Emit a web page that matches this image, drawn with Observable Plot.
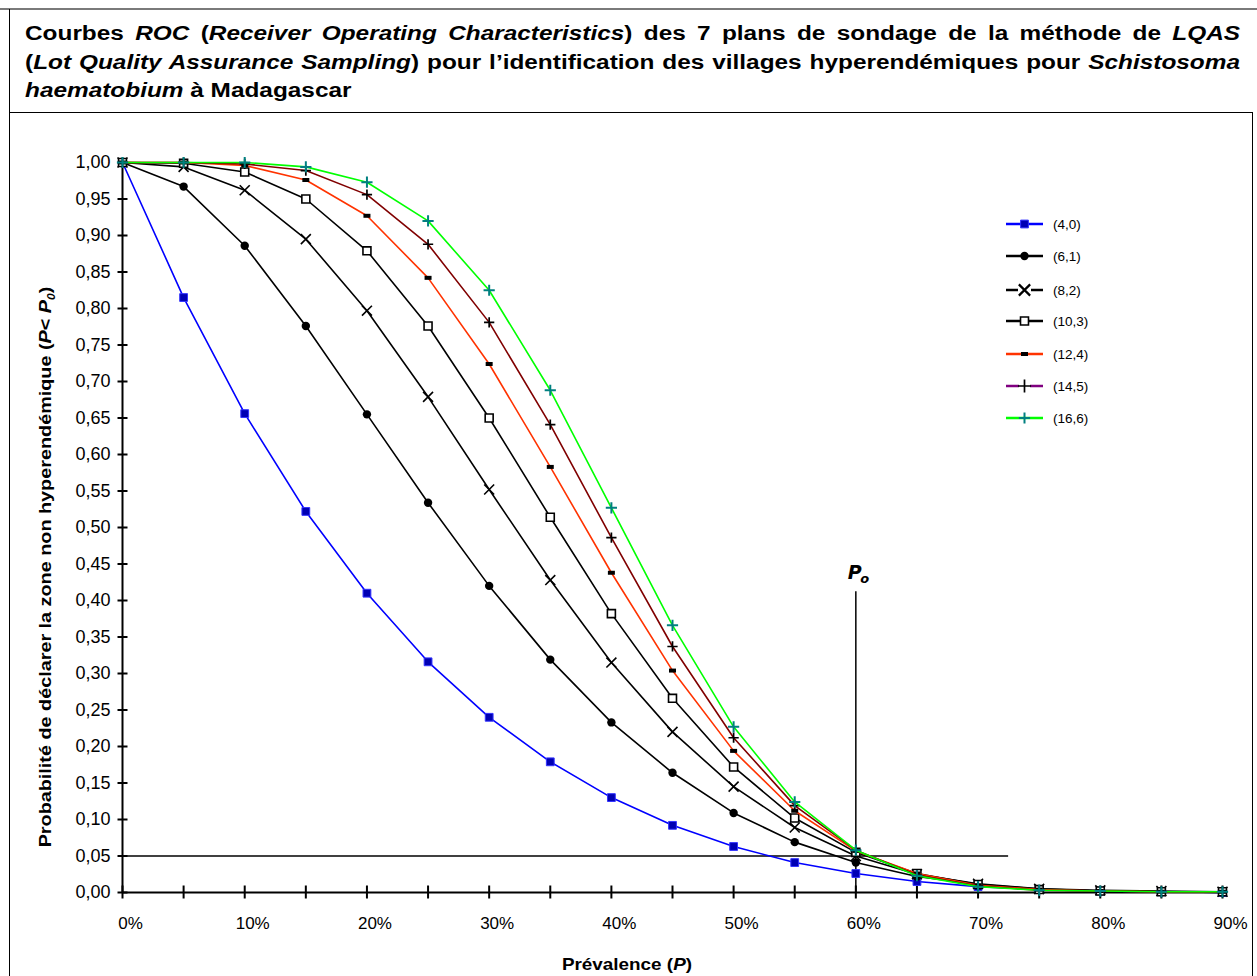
<!DOCTYPE html>
<html><head><meta charset="utf-8">
<script src="https://cdn.jsdelivr.net/npm/d3@7"></script>
<script src="https://cdn.jsdelivr.net/npm/@observablehq/plot@0.6"></script>
<style>
body{margin:0;background:#fff;font-family:"Liberation Sans",Arial,sans-serif;color:#000;}
#page{position:relative;width:1257px;height:976px;overflow:hidden;background:#fff;}
#topline{position:absolute;left:0;top:8px;width:1257px;height:2px;background:#7a7a7a;}
#leftline{position:absolute;left:9px;top:9px;width:1px;height:967px;background:#000;}
#box{position:absolute;left:9px;top:112px;width:1243px;height:900px;border-top:1px solid #000;border-right:1px solid #000;}
#title{position:absolute;left:25px;top:19px;width:972px;font-weight:bold;font-size:19.5px;line-height:28.5px;transform:scaleX(1.25);transform-origin:0 0;}
#title .j{text-align:justify;text-align-last:justify;}
#chart{position:absolute;left:0;top:113px;}
#ylab{position:absolute;left:-255px;top:557px;width:600px;height:20px;line-height:20px;text-align:center;font-weight:bold;font-size:16.5px;transform:rotate(-90deg) scaleX(1.2);white-space:nowrap;}
#xlab{position:absolute;left:427px;top:955px;width:400px;text-align:center;font-weight:bold;font-size:17px;transform:scaleX(1.11);}
#legend{position:absolute;left:0;top:0;}
</style>
</head><body>
<div id="page">
  <div id="topline"></div>
  <div id="leftline"></div>
  <div id="box"></div>
  <div id="title">
    <div class="j">Courbes <i>ROC</i> (<i>Receiver Operating Characteristics</i>) des 7 plans de sondage de la méthode de <i>LQAS</i></div>
    <div class="j">(<i>Lot Quality Assurance Sampling</i>) pour l’identification des villages hyperendémiques pour <i>Schistosoma</i></div>
    <div><i>haematobium</i> à Madagascar</div>
  </div>
  <div id="chart"></div>
  <div id="ylab">Probabilité de déclarer la zone non hyperendémique (<i>P</i>&lt; <i>P<sub style="font-size:10px">0</sub></i>)</div>
  <div id="xlab">Prévalence (<i>P</i>)</div>
</div>
<script>
// ---- data ----
const prevalence = [0,5,10,15,20,25,30,35,40,45,50,55,60,65,70,75,80,85,90];
const plans = ["(4,0)","(6,1)","(8,2)","(10,3)","(12,4)","(14,5)","(16,6)"];
const s40  = [1.000,0.815,0.656,0.522,0.410,0.316,0.240,0.179,0.130,0.092,0.063,0.041,0.026,0.015,0.008,0.004,0.002,0.001,0.000];
const s61  = [1.000,0.967,0.886,0.776,0.655,0.534,0.420,0.319,0.233,0.164,0.109,0.069,0.041,0.022,0.011,0.005,0.002,0.001,0.000];
const s82  = [1.000,0.994,0.962,0.895,0.797,0.679,0.552,0.428,0.315,0.220,0.145,0.089,0.050,0.025,0.012,0.005,0.003,0.002,0.001];
const s103 = [1.000,0.999,0.987,0.950,0.879,0.776,0.650,0.514,0.382,0.266,0.172,0.102,0.055,0.026,0.011,0.004,0.002,0.001,0.001];
const s124 = [1.000,1.000,0.996,0.976,0.927,0.842,0.724,0.583,0.438,0.304,0.194,0.112,0.057,0.026,0.010,0.004,0.002,0.001,0.001];
const s145 = [1.000,1.000,0.998,0.989,0.956,0.888,0.781,0.641,0.486,0.337,0.212,0.119,0.058,0.024,0.009,0.003,0.002,0.001,0.001];
const s166 = [1.000,1.000,1.000,0.994,0.973,0.920,0.825,0.688,0.527,0.366,0.227,0.124,0.058,0.023,0.008,0.003,0.002,0.001,0.001];
const seriesValues = [s40,s61,s82,s103,s124,s145,s166];
const yTicks = [0,0.05,0.10,0.15,0.20,0.25,0.30,0.35,0.40,0.45,0.50,0.55,0.60,0.65,0.70,0.75,0.80,0.85,0.90,0.95,1.00];
const xTicks = prevalence;
const xTickLabels = [0,10,20,30,40,50,60,70,80,90];
const threshold = 0.05;   // horizontal reference
const p0 = 60;            // P0 vertical reference
const p0Top = 0.412;
const refEnd = 72.5;

// ---- styles ----
const lineColors   = ["#0000ff","#000000","#000000","#000000","#ff3300","#800000","#00ff00"];
const legendColors = ["#0000ff","#000000","#000000","#000000","#ff3300","#800080","#00ff00"];

const dashSym = {draw(c){ c.rect(-3.5,-2,7,4); }};
const hTick = {draw(c){ c.moveTo(-5,0); c.lineTo(5,0); }};
const vTick = {draw(c){ c.moveTo(0,-7); c.lineTo(0,6); }};

const markerSpecs = [
  {symbol:"square", r:4.4, fill:"#0000b4", stroke:"#3333ff", strokeWidth:1},
  {symbol:"circle", r:4.2, fill:"#000", stroke:"none"},
  {symbol:"times", r:4.6, fill:"none", stroke:"#000", strokeWidth:1.6},
  {symbol:"square", r:4.5, fill:"#fff", stroke:"#000", strokeWidth:1.6},
  {symbol:dashSym, r:3, fill:"#000", stroke:"none"},
  {symbol:"plus", r:3.4, fill:"none", stroke:"#000", strokeWidth:1.7},
  {symbol:"plus", r:3.7, fill:"none", stroke:"#008080", strokeWidth:2}
];

const table = plans.flatMap((plan,i)=>prevalence.map((p,j)=>({plan, i, p, v:seriesValues[i][j]})));

const seriesMarks = plans.flatMap((plan,i)=>{
  const d = table.filter(r=>r.i===i);
  const m = markerSpecs[i];
  return [
    Plot.line(d,{x:"p",y:"v",stroke:lineColors[i],strokeWidth:1.6}),
    Plot.dot(d,{x:"p",y:"v",symbol:m.symbol,r:m.r,fill:m.fill,stroke:m.stroke,strokeWidth:m.strokeWidth||1})
  ];
});

const fmt = v => v.toFixed(2).replace(".",",");

const chart = Plot.plot({
  width:1257, height:863,
  marginLeft:122, marginRight:35, marginTop:49, marginBottom:84,
  x:{domain:[0,90], axis:null},
  y:{domain:[0,1], axis:null},
  style:{background:"transparent", fontFamily:"'Liberation Sans', Arial, sans-serif", overflow:"visible"},
  marks:[
    Plot.ruleY([threshold],{x1:0,x2:refEnd,stroke:"#000",strokeWidth:1.5}),
    Plot.ruleX([p0],{y1:0,y2:p0Top,stroke:"#000",strokeWidth:1.5}),
    Plot.ruleX([0],{y1:0,y2:1,stroke:"#000",strokeWidth:2}),
    Plot.ruleY([0],{x1:0,x2:90,stroke:"#000",strokeWidth:2}),
    Plot.dot(yTicks,{x:0,y:d=>d,symbol:hTick,fill:"none",stroke:"#000",strokeWidth:2}),
    Plot.dot(xTicks,{x:d=>d,y:0,symbol:vTick,fill:"none",stroke:"#000",strokeWidth:2}),
    Plot.text(yTicks,{x:0,y:d=>d,text:fmt,dx:-12,textAnchor:"end",fontSize:18,fill:"#000"}),
    Plot.text(xTickLabels,{x:d=>d,y:0,text:d=>d+"%",dx:8,dy:31,fontSize:17,fill:"#000"}),
    ...seriesMarks,
    Plot.text([p0],{x:d=>d,y:p0Top,text:()=>"P",dx:-1,dy:-19,fontSize:19,fontStyle:"italic",fontWeight:"bold",fontFamily:"DejaVu Sans",fill:"#000"}),
    Plot.text([p0],{x:d=>d,y:p0Top,text:()=>"o",dx:9,dy:-13,fontSize:13,fontStyle:"italic",fontWeight:"bold",fontFamily:"DejaVu Sans",fill:"#000"})
  ]
});
document.getElementById("chart").appendChild(chart);

// ---- legend ----
const lg = d3.select("#page").append("svg").attr("id","legend").attr("width",1257).attr("height",976);
const rowY = [224,256,290,321,354,386,418];
plans.forEach((plan,i)=>{
  const g = lg.append("g").attr("transform",`translate(1006,${rowY[i]})`);
  g.append("line").attr("x1",0).attr("x2",37).attr("y1",0).attr("y2",0).attr("stroke",legendColors[i]).attr("stroke-width",2.4);
  const m = markerSpecs[i];
  const symType = typeof m.symbol === "string" ? {square:d3.symbolSquare,circle:d3.symbolCircle,times:d3.symbolTimes,plus:d3.symbolPlus}[m.symbol] : m.symbol;
  const sw = i===2 ? 2.2 : (m.strokeWidth||1);
  const rr = i===2 ? 5.2 : (i===5 ? 4.3 : m.r);
  if (i===2) g.append("rect").attr("x",12).attr("y",-6).attr("width",13).attr("height",12).attr("fill","#fff");
  if (i===5) g.append("rect").attr("x",13).attr("y",-2).attr("width",11).attr("height",4).attr("fill","#fff");
  g.append("path").attr("transform","translate(18.5,0)")
    .attr("d", d3.symbol(symType, Math.PI*rr*rr)())
    .attr("fill", m.fill).attr("stroke", m.stroke).attr("stroke-width", sw);
  lg.append("text").attr("x",1053).attr("y",rowY[i]).attr("dy","0.35em")
    .attr("font-family","'Liberation Sans', Arial, sans-serif").attr("font-size",13.5).text(plan);
});
</script>
</body></html>
